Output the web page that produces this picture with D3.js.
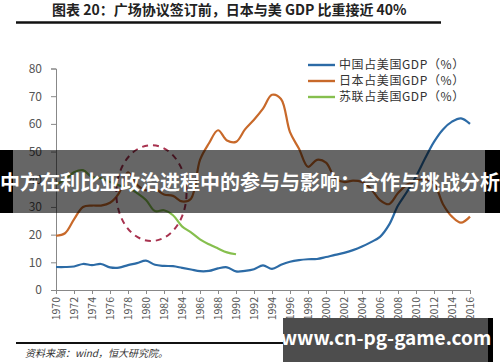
<!DOCTYPE html>
<html lang="zh">

<head>
    <meta charset="UTF-8">
    <title>GDP</title>
    <script src="https://cdn.jsdelivr.net/npm/d3@7/dist/d3.min.js"></script>
</head>
<style>
    * {
        margin: 0;
        padding: 0;
    }

    body {
        background: #fff;
    }

    text {
        font-family: "Noto Sans CJK SC", "Noto Sans", sans-serif;
    }
</style>

<body>
    <svg></svg>
</body>

</html>

<script>
    // 数据
    const years = d3.range(1970, 2017)
    const china = [8.3, 8.3, 8.5, 9.4, 9.0, 9.4, 8.2, 8.1, 9.0, 9.7,
        10.6, 9.1, 8.7, 8.6, 8.0, 7.4, 6.8, 6.9, 7.8, 8.2,
        6.7, 6.9, 7.5, 8.9, 7.6, 9.1, 10.2, 10.8, 11.1, 11.2,
        11.9, 12.7, 13.4, 14.4, 15.7, 17.3, 19.2, 23.5, 30.5, 35.5,
        41.0, 47.5, 53.5, 58.0, 60.8, 62.0, 60.0]
    const japan = [19.6, 20.5, 25.5, 30.0, 30.5, 30.5, 31.5, 35.0, 42.5, 38.0,
        36.0, 36.5, 34.5, 34.0, 32.0, 33.0, 47.0, 53.0, 57.7, 54.0,
        53.5, 58.0, 61.5, 65.5, 70.5, 69.0, 57.0, 51.0, 44.5, 47.0,
        46.0, 40.5, 39.0, 39.5, 39.0, 36.5, 32.5, 31.0, 35.0, 38.0,
        39.5, 40.0, 38.5, 31.0, 26.5, 24.3, 26.5]
    const ussrYears = d3.range(1970, 1991)
    const ussr = [38.0, 40.0, 42.5, 43.3, 40.8, 40.3, 39.0, 37.8, 37.0, 35.0,
        32.5, 28.5, 28.8, 27.0, 23.0, 20.8, 18.3, 16.5, 15.0, 13.6, 12.9]
    const yTicks = [0, 10, 20, 30, 40, 50, 60, 70, 80]
    const xTicks = [1970, 1972, 1974, 1976, 1978, 1980, 1982, 1984, 1986, 1988, 1990, 1992,
        1994, 1996, 1998, 2000, 2002, 2004, 2006, 2008, 2010, 2012, 2014, 2016]
    const legendNames = ['中国占美国GDP（%）', '日本占美国GDP（%）', '苏联占美国GDP（%）']
    const colors = ['#2C6BA6', '#C8692A', '#86BF4E']

    const svg = d3.select('svg').attr('width', 500).attr('height', 362)

    const x = d3.scaleLinear().domain([1970, 2016]).range([56, 470])
    const y = d3.scaleLinear().domain([0, 80]).range([290, 68.5])

    // 标题
    svg.append('text').attr('x', 52).attr('y', 15)
        .attr('font-size', '14px').attr('font-weight', 'bold').attr('fill', '#222')
        .text('图表 20：广场协议签订前，日本与美 GDP 比重接近 40%')
    svg.append('line').attr('x1', 16).attr('x2', 441).attr('y1', 22.5).attr('y2', 22.5)
        .attr('stroke', '#111').attr('stroke-width', 2.4)

    // 坐标轴
    const yAxis = svg.append('g').attr('transform', 'translate(56,0)')
        .call(d3.axisLeft(y).tickValues(yTicks).tickSize(5).tickPadding(9))
    yAxis.selectAll('text').attr('font-size', '12px').attr('fill', '#555')

    const xAxis = svg.append('g').attr('transform', 'translate(0,290)')
        .call(d3.axisBottom(x).tickValues(xTicks).tickFormat(d3.format('d')).tickSize(4))
    xAxis.selectAll('text')
        .attr('font-size', '10.5px').attr('fill', '#555')
        .attr('text-anchor', 'end')
        .attr('transform', 'rotate(-90)')
        .attr('x', -7).attr('y', 0).attr('dy', '0.35em')

    svg.selectAll('.domain, .tick line').attr('stroke', '#888')

    // 折线
    const line = d3.line().curve(d3.curveCatmullRom.alpha(0.5))
        .x(d => x(d[0])).y(d => y(d[1]))
    const series = [
        years.map((yr, i) => [yr, china[i]]),
        years.map((yr, i) => [yr, japan[i]]),
        ussrYears.map((yr, i) => [yr, ussr[i]])
    ]
    svg.selectAll('.series').data(series).enter().append('path')
        .attr('fill', 'none')
        .attr('stroke', (d, i) => colors[i])
        .attr('stroke-width', 2.2)
        .attr('d', line)

    // 虚线椭圆
    svg.append('ellipse')
        .attr('cx', x(1980.6)).attr('cy', y(35))
        .attr('rx', x(1980.6) - x(1976.7)).attr('ry', y(17.7) - y(35))
        .attr('fill', 'none').attr('stroke', '#A8324F')
        .attr('stroke-width', 2).attr('stroke-dasharray', '6,5')

    // 图例
    const legend = svg.append('g')
    legendNames.forEach((name, i) => {
        const ly = 65 + i * 16
        legend.append('line').attr('x1', 308).attr('x2', 335).attr('y1', ly).attr('y2', ly)
            .attr('stroke', colors[i]).attr('stroke-width', 2.4)
        legend.append('text').attr('x', 339).attr('y', ly).attr('dy', '0.36em')
            .attr('font-size', '12px').attr('letter-spacing', '0.6px')
            .attr('fill', '#333').text(name)
    })

    // 底部
    svg.append('line').attr('x1', 16).attr('x2', 441).attr('y1', 343).attr('y2', 343)
        .attr('stroke', '#111').attr('stroke-width', 2)
    svg.append('text').attr('x', 25).attr('y', 357)
        .attr('font-size', '10px').attr('font-style', 'italic').attr('fill', '#333')
        .text('资料来源：wind，恒大研究院。')

    // 横幅（半透明，中间能透出折线）
    svg.append('rect').attr('x', 0).attr('y', 150).attr('width', 13).attr('height', 63).attr('fill', '#000')
    svg.append('rect').attr('x', 485).attr('y', 150).attr('width', 15).attr('height', 63).attr('fill', '#000')
    svg.append('rect').attr('x', 13).attr('y', 150).attr('width', 472).attr('height', 63)
        .attr('fill', 'rgba(0,0,0,0.6)')
    svg.append('text').attr('x', 250).attr('y', 183).attr('dy', '0.35em')
        .attr('text-anchor', 'middle').attr('font-size', '20px').attr('font-weight', 'bold')
        .attr('fill', '#fff')
        .text('中方在利比亚政治进程中的参与与影响：合作与挑战分析')

    // 水印
    svg.append('rect').attr('x', 283).attr('y', 318).attr('width', 210).attr('height', 44).attr('fill', '#000')
    svg.append('rect').attr('x', 283).attr('y', 318).attr('width', 205).attr('height', 44)
        .attr('fill', 'rgba(255,255,255,0.3)')
    svg.append('text').attr('x', 386).attr('y', 338).attr('dy', '0.35em')
        .attr('text-anchor', 'middle').attr('font-size', '19px').attr('font-weight', 'bold')
        .attr('fill', '#fff').text('www.cn-pg-game.com')
</script>
